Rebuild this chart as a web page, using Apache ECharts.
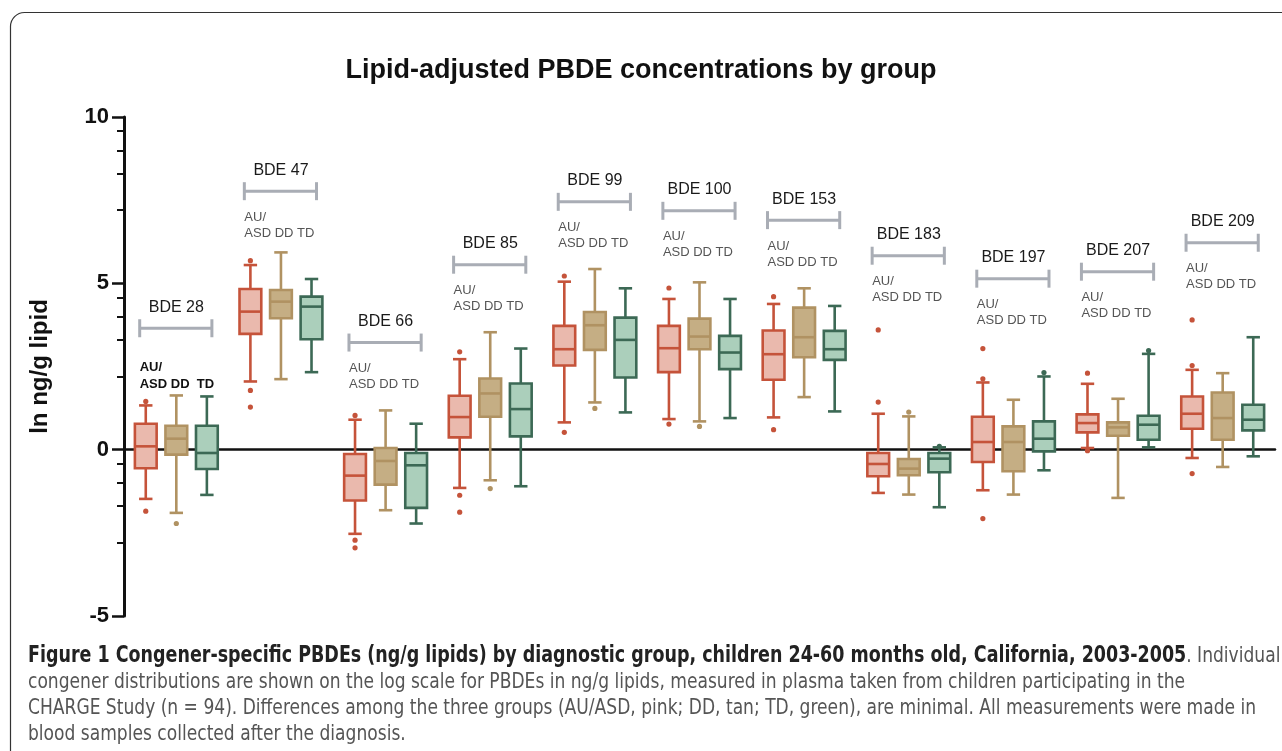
<!DOCTYPE html>
<html>
<head>
<meta charset="utf-8">
<script src="https://cdn.jsdelivr.net/npm/echarts@6/dist/echarts.min.js"></script>
<style>html,body{margin:0;padding:0;background:#fff}#main{width:1282px;height:751px}</style>
</head>
<body>
<div id="main"></div>
<script>
// congeners and groups
var congeners = ['BDE 28', 'BDE 47', 'BDE 66', 'BDE 85', 'BDE 99', 'BDE 100', 'BDE 153', 'BDE 183', 'BDE 197', 'BDE 207', 'BDE 209'];
var groups = ['AU/ASD', 'DD', 'TD'];

// box values per congener: [low whisker, Q1, median, Q3, high whisker] (ln ng/g lipid)
var auBox = [
    [-1.48, -0.56, 0.10, 0.78, 1.33],
    [2.05, 3.48, 4.15, 4.83, 5.55],
    [-2.53, -1.53, -0.78, -0.13, 0.90],
    [-1.15, 0.37, 0.98, 1.62, 2.72],
    [0.82, 2.53, 3.02, 3.72, 5.05],
    [0.92, 2.33, 3.05, 3.72, 4.53],
    [0.97, 2.10, 2.87, 3.58, 4.38],
    [-1.30, -0.80, -0.43, -0.10, 1.08],
    [-1.22, -0.37, 0.23, 0.99, 2.02],
    [0.05, 0.52, 0.80, 1.06, 1.98],
    [-0.25, 0.63, 1.08, 1.60, 2.40]
];
var ddBox = [
    [-1.90, -0.15, 0.33, 0.72, 1.63],
    [2.12, 3.95, 4.45, 4.80, 5.93],
    [-1.82, -1.05, -0.34, 0.05, 1.18],
    [-0.92, 0.99, 1.69, 2.14, 3.53],
    [1.42, 3.00, 3.74, 4.14, 5.43],
    [0.85, 3.02, 3.40, 3.94, 5.03],
    [1.58, 2.78, 3.38, 4.27, 4.85],
    [-1.35, -0.77, -0.57, -0.28, 1.00],
    [-1.35, -0.65, 0.23, 0.70, 1.50],
    [-1.45, 0.42, 0.67, 0.82, 1.53],
    [-0.52, 0.30, 0.95, 1.72, 2.30]
];
var tdBox = [
    [-1.36, -0.58, -0.10, 0.72, 1.60],
    [2.33, 3.32, 4.30, 4.60, 5.13],
    [-2.22, -1.75, -0.47, -0.10, 0.78],
    [-1.10, 0.40, 1.22, 1.99, 3.04],
    [1.12, 2.17, 3.30, 3.97, 4.85],
    [0.95, 2.42, 2.92, 3.42, 4.53],
    [1.15, 2.70, 3.02, 3.57, 4.32],
    [-1.73, -0.68, -0.27, -0.10, 0.07],
    [-0.62, -0.05, 0.33, 0.85, 2.20],
    [0.07, 0.30, 0.75, 1.02, 2.88],
    [-0.20, 0.58, 0.90, 1.35, 3.38]
];

// outliers: [congener index, value]
var auOut = [[0, 1.45], [0, -1.85], [1, 5.68], [1, 1.78], [1, 1.28], [2, 1.03], [2, -2.72], [2, -2.95],
    [3, 2.94], [3, -1.37], [3, -1.88], [4, 5.22], [4, 0.52], [5, 4.86], [5, 0.77], [6, 4.60], [6, 0.60],
    [7, 1.43], [7, 3.60], [8, 2.13], [8, 3.04], [8, -2.07], [9, 2.30], [9, -0.03], [10, 2.53], [10, 3.90], [10, -0.72]];
var ddOut = [[0, -2.22], [3, -1.17], [4, 1.24], [5, 0.70], [7, 1.13]];
var tdOut = [[7, 0.10], [8, 2.32], [9, 2.98]];

// axis ticks
var yLabelTicks = [-5, 0, 5, 10];
var yMinorTicks = [9.58, 9.0, 8.3, 7.2, 4.58, 4.0, 3.3, 2.2, -0.42, -1.0, -1.7, -2.8];

// level (in axis units) of the bracket over each congener
var bracketLevel = [3.65, 7.77, 3.22, 5.56, 7.45, 7.18, 6.9, 5.83, 5.14, 5.35, 6.22];

var strokes = ['#c5533a', '#b09262', '#3c6955'];
var fills = ['#eab9ad', '#c5ae84', '#abcfbb'];
var boxes = [auBox, ddBox, tdBox];
var outs = [auOut, ddOut, tdOut];

var chartDom = document.getElementById('main');
var myChart = echarts.init(chartDom);
var option;

function boxRenderer(g) {
    return function (params, api) {
        var i = api.value(0);
        var band = api.size([1, 0])[0];
        var x = api.coord([i, 0])[0] + (g - 1) * band * 0.292;
        var y = [1, 2, 3, 4, 5].map(function (d) { return api.coord([i, api.value(d)])[1]; });
        var half = band * 0.104, cap = band * 0.064;
        var ls = {stroke: strokes[g], lineWidth: 2.6};
        return {
            type: 'group',
            children: [
                {type: 'line', shape: {x1: x, y1: y[0], x2: x, y2: y[1]}, style: ls},
                {type: 'line', shape: {x1: x, y1: y[3], x2: x, y2: y[4]}, style: ls},
                {type: 'line', shape: {x1: x - cap, y1: y[0], x2: x + cap, y2: y[0]}, style: ls},
                {type: 'line', shape: {x1: x - cap, y1: y[4], x2: x + cap, y2: y[4]}, style: ls},
                {type: 'rect', shape: {x: x - half, y: y[3], width: 2 * half, height: y[1] - y[3]},
                    style: {fill: fills[g], stroke: strokes[g], lineWidth: 2.6}},
                {type: 'line', shape: {x1: x - half, y1: y[2], x2: x + half, y2: y[2]}, style: ls}
            ]
        };
    };
}

function dotRenderer(g) {
    return function (params, api) {
        var band = api.size([1, 0])[0];
        var p = api.coord([api.value(0), api.value(1)]);
        return {
            type: 'circle',
            shape: {cx: p[0] + (g - 1) * band * 0.292, cy: p[1], r: 2.6},
            style: {fill: strokes[g]}
        };
    };
}

function labelRenderer(params, api) {
    var i = api.value(0);
    var p = api.coord([i, api.value(1)]);
    var band = api.size([1, 0])[0];
    var x0 = p[0] - band * 0.35, x1 = p[0] + band * 0.34;
    var first = i === 0;
    var bs = {stroke: '#a9adb5', lineWidth: 3};
    var small = {
        fill: first ? '#111' : '#555',
        font: (first ? 'bold ' : '') + '13px "Liberation Sans", Arial, sans-serif',
        align: 'left', textAlign: 'left', verticalAlign: 'middle', textVerticalAlign: 'middle'
    };
    return {
        type: 'group',
        children: [
            {type: 'line', shape: {x1: x0, y1: p[1], x2: x1, y2: p[1]}, style: bs},
            {type: 'line', shape: {x1: x0, y1: p[1] - 9, x2: x0, y2: p[1] + 9}, style: bs},
            {type: 'line', shape: {x1: x1, y1: p[1] - 9, x2: x1, y2: p[1] + 9}, style: bs},
            {type: 'text', x: p[0], y: p[1] - 21, style: {
                text: api.value(2), fill: '#1a1a1a', font: '16px "Liberation Sans", Arial, sans-serif',
                align: 'center', textAlign: 'center', verticalAlign: 'middle', textVerticalAlign: 'middle'}},
            {type: 'text', x: x0, y: p[1] + (first ? 39 : 26), style: echarts.util.extend({text: 'AU/'}, small)},
            {type: 'text', x: x0, y: p[1] + (first ? 56 : 42),
                style: echarts.util.extend({text: first ? 'ASD DD  TD' : 'ASD DD TD'}, small)}
        ]
    };
}

var series = [];
groups.forEach(function (name, g) {
    series.push({
        name: name,
        type: 'custom',
        renderItem: boxRenderer(g),
        encode: {x: 0, y: [1, 2, 3, 4, 5]},
        data: boxes[g].map(function (b, i) { return [i].concat(b); }),
        z: 3
    });
});
groups.forEach(function (name, g) {
    series.push({
        name: name + ' outliers',
        type: 'custom',
        renderItem: dotRenderer(g),
        encode: {x: 0, y: 1},
        data: outs[g],
        z: 4
    });
});
series.push({
    name: 'labels',
    type: 'custom',
    renderItem: labelRenderer,
    encode: {x: 0, y: 1},
    data: bracketLevel.map(function (v, i) { return [i, v, congeners[i]]; }),
    z: 5
});

option = {
    animation: false,
    backgroundColor: '#fff',
    title: {
        text: 'Lipid-adjusted PBDE concentrations by group',
        left: 'center',
        top: 52,
        textStyle: {fontSize: 27, fontWeight: 'bold', color: '#111', fontFamily: '"Liberation Sans", Arial, sans-serif'}
    },
    grid: {left: 124, right: 7, top: 117, bottom: 135, containLabel: false},
    xAxis: {
        type: 'category',
        data: congeners,
        axisLine: {onZero: true, lineStyle: {color: '#111', width: 2.5}},
        axisTick: {show: false},
        axisLabel: {show: false},
        splitLine: {show: false}
    },
    yAxis: [
        {
            type: 'value',
            min: -5,
            max: 10,
            interval: 5,
            position: 'left',
            name: 'ln ng/g lipid',
            nameLocation: 'middle',
            nameGap: 72,
            nameTextStyle: {fontSize: 24, fontWeight: 'bold', color: '#111', fontFamily: '"Liberation Sans", Arial, sans-serif'},
            axisLine: {show: true, onZero: false, lineStyle: {color: '#111', width: 3}},
            axisTick: {show: true, length: 12, lineStyle: {color: '#111', width: 2.5}},
            axisLabel: {
                margin: 15, fontSize: 22, fontWeight: 'bold', color: '#111',
                fontFamily: '"Liberation Sans", Arial, sans-serif',
                customValues: yLabelTicks
            },
            splitLine: {show: false}
        },
        {
            type: 'value',
            min: -5,
            max: 10,
            position: 'left',
            axisLine: {show: false},
            axisTick: {show: true, length: 7, customValues: yMinorTicks, lineStyle: {color: '#111', width: 2}},
            axisLabel: {show: false},
            splitLine: {show: false}
        }
    ],
    graphic: [
        {
            type: 'rect',
            silent: true,
            shape: {x: 10.5, y: 12.5, width: 1400, height: 900, r: 14},
            style: {fill: 'none', stroke: '#333', lineWidth: 1.2}
        },
        {
            type: 'text',
            x: 28,
            y: 643,
            scaleX: 0.864,
            silent: true,
            style: {
                text: '{b|Figure 1 Congener-specific PBDEs (ng/g lipids) by diagnostic group, children 24-60 months old, California, 2003-2005}{n|. Individual}\n' +
                    '{n|congener distributions are shown on the log scale for PBDEs in ng/g lipids, measured in plasma taken from children participating in the}\n' +
                    '{n|CHARGE Study (n = 94). Differences among the three groups (AU/ASD, pink; DD, tan; TD, green), are minimal. All measurements were made in}\n' +
                    '{n|blood samples collected after the diagnosis.}',
                verticalAlign: 'top',
                rich: {
                    b: {fontSize: 22.5, fontWeight: 'bold', fill: '#222', lineHeight: 26,
                        fontFamily: '"DejaVu Sans Condensed", "Liberation Sans", sans-serif'},
                    n: {fontSize: 22, fill: '#555', lineHeight: 26,
                        fontFamily: '"DejaVu Sans Condensed", "Liberation Sans", sans-serif'}
                }
            }
        }
    ],
    series: series
};

option && myChart.setOption(option);
</script>
</body>
</html>
